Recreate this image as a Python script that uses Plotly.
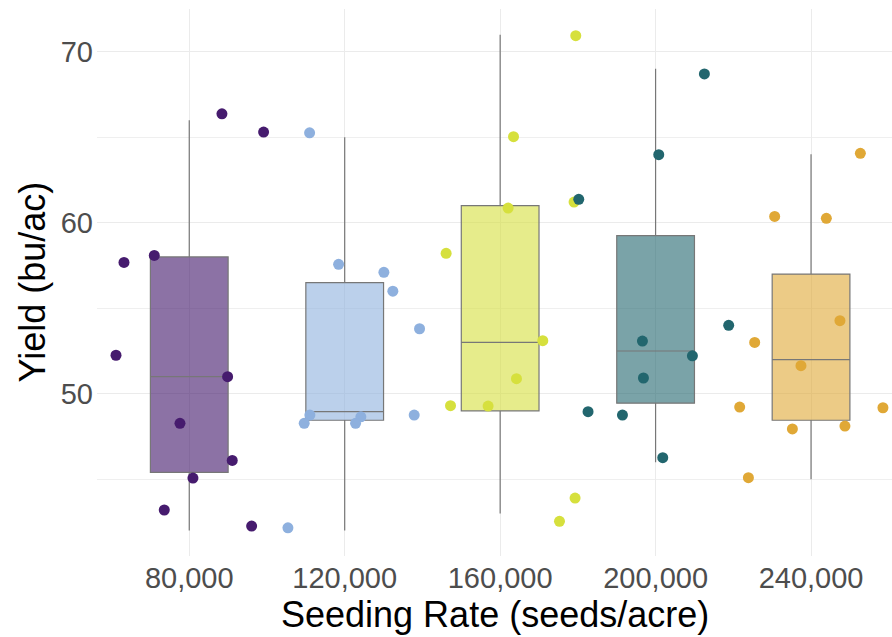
import plotly.graph_objects as go

# ---- data ----
rates = [80000, 120000, 160000, 200000, 240000]
point_colors = ["#461B6E", "#8EB0DE", "#D6E03D", "#22666E", "#E0A836"]
box_fills = ["rgba(70,27,110,0.62)", "rgba(142,176,222,0.6)", "rgba(214,224,61,0.6)",
             "rgba(34,102,110,0.6)", "rgba(224,168,54,0.6)"]

# box statistics per seeding rate
q1 = [45.4, 48.45, 49.0, 49.45, 48.45]
median = [51.0, 48.95, 53.0, 52.5, 52.0]
q3 = [58.0, 56.5, 61.0, 59.25, 57.0]
lower = [42.0, 42.0, 43.0, 46.0, 45.0]
upper = [66.0, 65.0, 71.0, 69.0, 64.0]

# jittered observations
x_80 = [88410, 99130, 63205, 71000, 61150, 89870, 77610, 91060, 80950, 73570, 96050]
y_80 = [66.37, 65.30, 57.68, 58.09, 52.25, 51.0, 48.27, 46.1, 45.07, 43.2, 42.26]
x_120 = [110967, 118430, 130080, 132390, 139260, 111040, 109580, 124160, 122800, 137880, 105390]
y_120 = [65.26, 57.57, 57.10, 56.0, 53.8, 48.75, 48.27, 48.65, 48.27, 48.75, 42.16]
x_160 = [179460, 163440, 162050, 179020, 146100, 170970, 164200, 147230, 156900, 179280, 175270]
y_160 = [70.94, 65.03, 60.86, 61.21, 58.21, 53.1, 50.88, 49.30, 49.28, 43.9, 42.54]
x_200 = [212560, 200810, 180230, 218810, 196610, 209470, 196870, 182620, 191470, 201840]
y_200 = [68.7, 63.98, 61.37, 54.0, 53.08, 52.22, 50.92, 48.95, 48.75, 46.26]
x_240 = [230640, 243940, 252690, 247440, 225500, 237410, 221640, 258500, 235200, 248720, 223880]
y_240 = [60.37, 60.26, 64.06, 54.27, 53.0, 51.64, 49.22, 49.18, 47.94, 48.11, 45.09]

xs = [x_80, x_120, x_160, x_200, x_240]
ys = [y_80, y_120, y_160, y_200, y_240]

x_tickvals = rates
x_ticktext = ["80,000", "120,000", "160,000", "200,000", "240,000"]
y_tickvals = [50, 60, 70]
x_title = "Seeding Rate (seeds/acre)"
y_title = "Yield (bu/ac)"

fig = go.Figure()
for i, r in enumerate(rates):
    fig.add_trace(go.Box(
        x=[r], q1=[q1[i]], median=[median[i]], q3=[q3[i]],
        lowerfence=[lower[i]], upperfence=[upper[i]],
        width=20000, fillcolor=box_fills[i],
        line=dict(color="#777777", width=1.2), whiskerwidth=0,
        boxpoints=False, showlegend=False, hoverinfo="skip",
    ))
for i in range(len(rates)):
    fig.add_trace(go.Scatter(
        x=xs[i], y=ys[i], mode="markers",
        marker=dict(color=point_colors[i], size=11, line=dict(width=0)),
        showlegend=False, hoverinfo="skip",
    ))

font_family = "Liberation Sans, Arial, sans-serif"
fig.update_layout(
    width=892, height=637,
    margin=dict(l=97, r=0, t=9, b=81, autoexpand=False),
    paper_bgcolor="white", plot_bgcolor="white",
    boxmode="overlay",
    font=dict(family=font_family),
    showlegend=False,
    annotations=[
        dict(text=x_title, xref="paper", yref="paper", x=0.5, y=-0.0, yshift=-58,
             xanchor="center", yanchor="middle", showarrow=False,
             font=dict(size=36, color="black")),
        dict(text=y_title, xref="paper", yref="paper", x=0, xshift=-65, y=0.5,
             xanchor="center", yanchor="middle", textangle=-90, showarrow=False,
             font=dict(size=36, color="black")),
    ],
)
fig.update_xaxes(
    range=[56260, 260833], tickvals=x_tickvals, ticktext=x_ticktext,
    showgrid=True, gridcolor="#EBEBEB", gridwidth=1.2, zeroline=False,
    showline=False, ticks="", automargin=False, ticklabelstandoff=2,
    tickfont=dict(size=29, color="#4D4D4D"),
)
fig.update_yaxes(
    range=[40.51, 72.5], tickvals=y_tickvals,
    showgrid=True, gridcolor="#EBEBEB", gridwidth=1.2, zeroline=False,
    showline=False, ticks="", automargin=False, ticklabelstandoff=3,
    minor=dict(tickvals=[45, 55, 65], showgrid=True, gridcolor="#EFEFEF", gridwidth=1),
    tickfont=dict(size=29, color="#4D4D4D"),
)
fig.write_html("out.html", config={"displayModeBar": False},
               post_script="document.body.style.margin='0';document.body.style.padding='0';")
